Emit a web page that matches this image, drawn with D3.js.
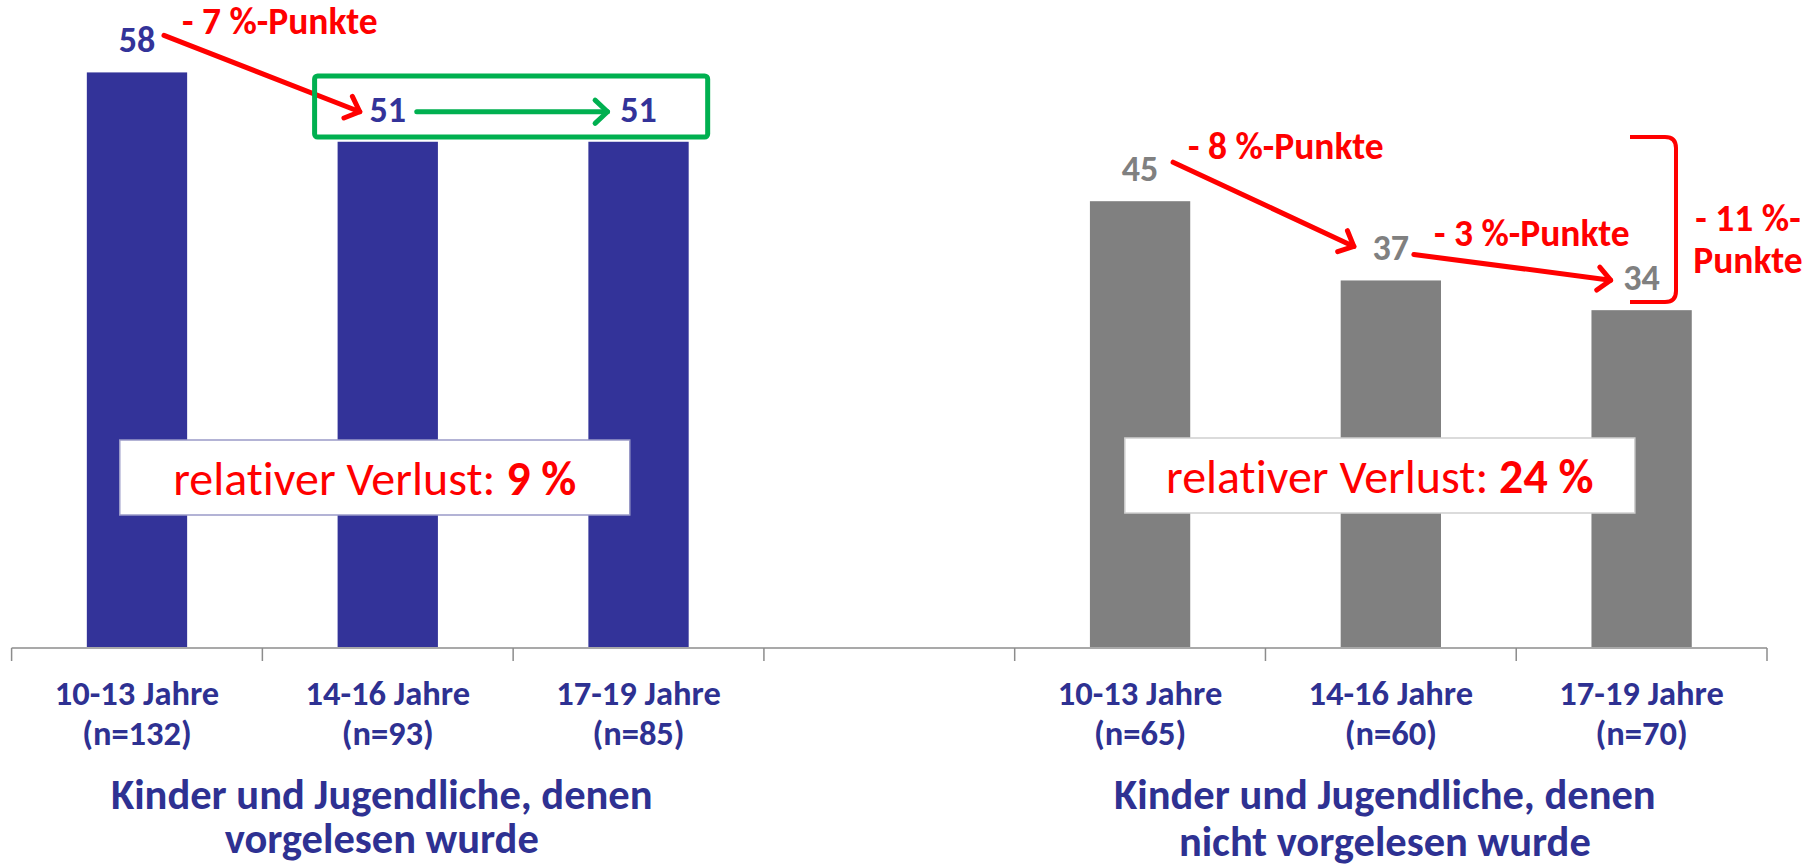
<!DOCTYPE html>
<html>
<head>
<meta charset="utf-8">
<script src="https://cdn.jsdelivr.net/npm/d3@7"></script>
<style>
  body { margin: 0; background: #fff; }
  svg text { font-family: Carlito, Calibri, "Liberation Sans Narrow", "Open Sans", sans-serif; font-variant-ligatures: none; }
</style>
</head>
<body>
<div id="chart"></div>
<script>
// data
const ageGroups = ["10-13 Jahre", "14-16 Jahre", "17-19 Jahre"];
const readValues = [58, 51, 51];
const readN = [132, 93, 85];
const notReadValues = [45, 37, 34];
const notReadN = [65, 60, 70];
const groupTitles = [
  ["Kinder und Jugendliche, denen", "vorgelesen wurde"],
  ["Kinder und Jugendliche, denen", "nicht vorgelesen wurde"]
];
const relLoss = ["9 %", "24 %"];

const width = 1816, height = 866;
const blue = "#333399", grey = "#808080", navy = "#2e3192", red = "#ff0000", green = "#00b050";

// one slot per bar, with an empty slot between the two groups
const slots = ["r0", "r1", "r2", "gap", "n0", "n1", "n2"];
const bars = [];
readValues.forEach((v, i) => bars.push({slot: "r" + i, value: v, n: readN[i], age: ageGroups[i], color: blue}));
notReadValues.forEach((v, i) => bars.push({slot: "n" + i, value: v, n: notReadN[i], age: ageGroups[i], color: grey}));

const svg = d3.select("#chart").append("svg")
  .attr("width", width).attr("height", height);

const x = d3.scaleBand().domain(slots).range([11.6, 1767]).padding(0);
const y = d3.scaleLinear().domain([0, 60]).range([647, 52.6]);
const barW = x.bandwidth() * 0.4;
const cx = s => x(s) + x.bandwidth() / 2;

// bars
svg.selectAll(".bar")
  .data(bars)
  .enter().append("rect")
  .attr("class", "bar")
  .attr("x", d => cx(d.slot) - barW / 2)
  .attr("y", d => y(d.value))
  .attr("width", barW)
  .attr("height", d => y(0) - y(d.value))
  .attr("fill", d => d.color);

// axis line + ticks at slot boundaries
svg.append("line")
  .attr("x1", x.range()[0]).attr("x2", x.range()[1])
  .attr("y1", y(0) + 1).attr("y2", y(0) + 1)
  .attr("stroke", "#8c8c8c").attr("stroke-width", 1.5);
const bounds = slots.map(s => x(s)).concat([x.range()[1]]);
svg.selectAll(".tick")
  .data(bounds)
  .enter().append("line")
  .attr("x1", d => d).attr("x2", d => d)
  .attr("y1", y(0) + 1).attr("y2", y(0) + 14)
  .attr("stroke", "#8c8c8c").attr("stroke-width", 1.5);

// value labels
svg.selectAll(".val")
  .data(bars)
  .enter().append("text")
  .attr("x", d => cx(d.slot))
  .attr("y", d => y(d.value) - 20)
  .attr("text-anchor", "middle")
  .attr("font-size", 36)
  .attr("font-weight", "bold")
  .attr("fill", d => d.color)
  .text(d => d.value);

// category labels
const cat = svg.selectAll(".cat")
  .data(bars)
  .enter().append("text")
  .attr("text-anchor", "middle")
  .attr("font-size", 34.5)
  .attr("font-weight", "bold")
  .attr("fill", navy);
cat.append("tspan").attr("x", d => cx(d.slot)).attr("y", 705).text(d => d.age);
cat.append("tspan").attr("x", d => cx(d.slot)).attr("y", 745).text(d => "(n=" + d.n + ")");

// group titles
const groupCenters = [
  (x("r0") + x("r2") + x.bandwidth()) / 2,
  (x("n0") + x("n2") + x.bandwidth()) / 2
];
groupTitles.forEach((lines, gi) => {
  const t = svg.append("text")
    .attr("text-anchor", "middle")
    .attr("font-size", 42.5)
    .attr("font-weight", "bold")
    .attr("fill", navy);
  lines.forEach((l, li) => {
    t.append("tspan").attr("x", groupCenters[gi] - 6).attr("y", 809 + li * 44 + gi * 3 * li).text(l);
  });
});

// relative loss boxes
const boxBorder = ["#9a9ac8", "#cfcfcf"];
groupCenters.forEach((c, gi) => {
  const bx = c - 13 + gi * 2;
  svg.append("rect")
    .attr("x", bx - 255).attr("y", 440 - gi * 2)
    .attr("width", 510).attr("height", 75)
    .attr("fill", "#fff")
    .attr("stroke", boxBorder[gi]).attr("stroke-width", 1.5);
  const t = svg.append("text")
    .attr("x", bx).attr("y", 495 - gi * 2)
    .attr("text-anchor", "middle")
    .attr("font-size", 48)
    .attr("fill", red);
  t.append("tspan").text("relativer Verlust: ");
  t.append("tspan").attr("font-weight", "bold").text(relLoss[gi]);
});

// arrows with open chevron heads
function arrow(x1, y1, x2, y2, color) {
  const a = Math.atan2(y2 - y1, x2 - x1);
  const len = 17, spread = 0.75;
  svg.append("line")
    .attr("x1", x1).attr("y1", y1).attr("x2", x2).attr("y2", y2)
    .attr("stroke", color).attr("stroke-width", 5).attr("stroke-linecap", "round");
  const p1 = [x2 - len * Math.cos(a - spread), y2 - len * Math.sin(a - spread)];
  const p2 = [x2 - len * Math.cos(a + spread), y2 - len * Math.sin(a + spread)];
  svg.append("polyline")
    .attr("points", [p1, [x2, y2], p2].map(p => p.join(",")).join(" "))
    .attr("fill", "none").attr("stroke", color).attr("stroke-width", 5)
    .attr("stroke-linecap", "round").attr("stroke-linejoin", "round");
}

function annot(tx, ty, txt) {
  svg.append("text")
    .attr("x", tx).attr("y", ty)
    .attr("font-size", 37.5).attr("font-weight", "bold").attr("fill", red)
    .text(txt);
}

const labY = v => y(v) - 20;

// left group: -7 then stable
arrow(cx("r0") + 27, labY(readValues[0]) - 17, cx("r1") - 28, labY(readValues[1]) - 10, red);
annot(182, 34, "- 7 %-Punkte");
svg.append("rect")
  .attr("x", cx("r1") - barW / 2 - 23).attr("y", 76)
  .attr("width", (cx("r2") + barW / 2 + 19) - (cx("r1") - barW / 2 - 23))
  .attr("height", 61)
  .attr("rx", 3)
  .attr("fill", "none").attr("stroke", green).attr("stroke-width", 5);
arrow(cx("r1") + 29, labY(readValues[1]) - 10, cx("r2") - 31, labY(readValues[2]) - 10, green);

// right group: -8, -3, bracket -11
arrow(cx("n0") + 33, labY(notReadValues[0]) - 19, cx("n1") - 37, labY(notReadValues[1]) - 14, red);
annot(1188, 159, "- 8 %-Punkte");
arrow(cx("n1") + 23, labY(notReadValues[1]) - 6, cx("n2") - 31, labY(notReadValues[2]) - 10, red);
annot(1434, 246, "- 3 %-Punkte");

svg.append("path")
  .attr("d", "M1630,137 L1665,137 Q1676,137 1676,148 L1676,291 Q1676,302 1665,302 L1630,302")
  .attr("fill", "none").attr("stroke", red).attr("stroke-width", 4);
const br = svg.append("text")
  .attr("text-anchor", "middle")
  .attr("font-size", 37.5).attr("font-weight", "bold").attr("fill", red);
br.append("tspan").attr("x", 1748).attr("y", 231).text("- 11 %-");
br.append("tspan").attr("x", 1748).attr("y", 273).text("Punkte");
</script>
</body>
</html>
